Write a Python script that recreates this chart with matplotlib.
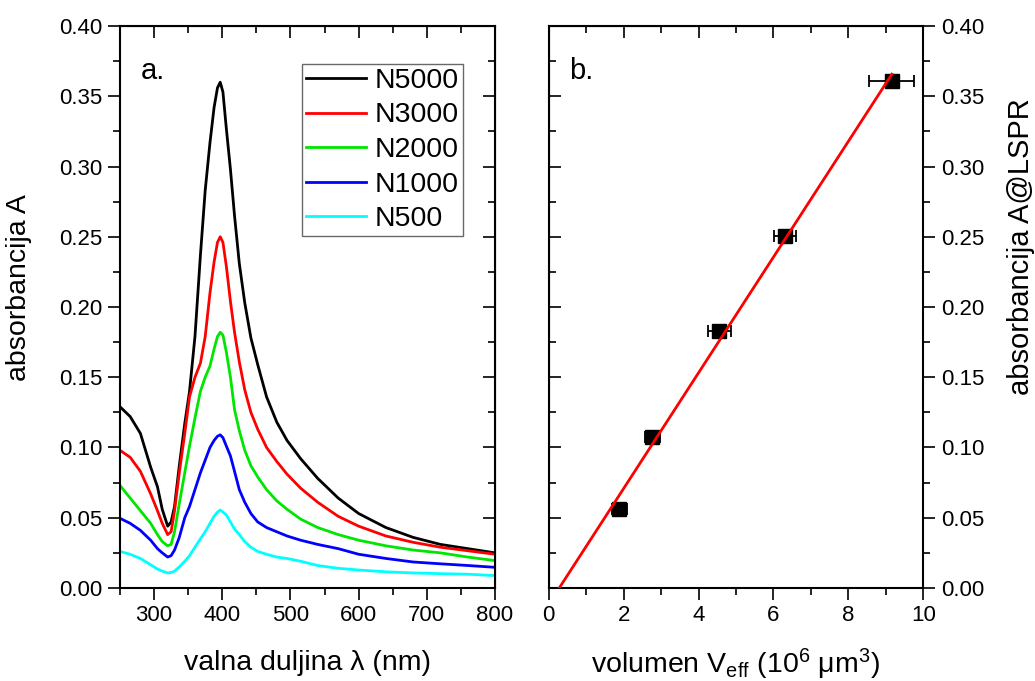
import numpy as np
import matplotlib
matplotlib.use("Agg")
import matplotlib.pyplot as plt
from matplotlib.ticker import MultipleLocator, FormatStrFormatter

plt.rcParams["font.family"] = ["Liberation Sans", "DejaVu Sans"]
plt.rcParams["mathtext.fontset"] = "custom"
plt.rcParams["mathtext.rm"] = "Liberation Sans"
plt.rcParams["mathtext.it"] = "Liberation Sans:italic"

# panel a: absorption spectra
wavelength = [250, 265, 280, 295, 305, 312, 320, 325, 330, 337, 345, 352, 360,
              368, 375, 382, 388, 393, 397, 401, 406, 412, 418, 425, 433, 442,
              452, 465, 480, 495, 515, 540, 570, 600, 640, 680, 720, 760, 800]
n5000 = [0.129, 0.122, 0.110, 0.086, 0.072, 0.056, 0.044, 0.047, 0.058, 0.087,
         0.117, 0.140, 0.179, 0.237, 0.283, 0.317, 0.342, 0.356, 0.360, 0.353,
         0.327, 0.298, 0.265, 0.231, 0.203, 0.178, 0.159, 0.136, 0.118, 0.105,
         0.092, 0.078, 0.064, 0.053, 0.043, 0.036, 0.031, 0.028, 0.025]
n3000 = [0.098, 0.093, 0.083, 0.067, 0.055, 0.046, 0.038, 0.040, 0.055, 0.082,
         0.110, 0.136, 0.150, 0.160, 0.179, 0.210, 0.232, 0.246, 0.250, 0.246,
         0.229, 0.204, 0.182, 0.161, 0.141, 0.125, 0.113, 0.100, 0.090, 0.081,
         0.071, 0.061, 0.051, 0.044, 0.037, 0.0325, 0.029, 0.0265, 0.024]
n2000 = [0.073, 0.064, 0.055, 0.046, 0.038, 0.033, 0.030, 0.031, 0.040, 0.060,
         0.082, 0.101, 0.121, 0.140, 0.150, 0.158, 0.170, 0.179, 0.182, 0.180,
         0.168, 0.150, 0.127, 0.112, 0.098, 0.087, 0.079, 0.070, 0.062, 0.056,
         0.049, 0.043, 0.038, 0.034, 0.030, 0.027, 0.025, 0.022, 0.0195]
n1000 = [0.0496, 0.046, 0.041, 0.034, 0.028, 0.025, 0.022, 0.023, 0.027,
         0.036, 0.050, 0.058, 0.070, 0.082, 0.091, 0.100, 0.105, 0.108, 0.109,
         0.107, 0.101, 0.094, 0.083, 0.070, 0.061, 0.053, 0.047, 0.043, 0.040,
         0.037, 0.034, 0.031, 0.028, 0.024, 0.021, 0.0185, 0.0172, 0.016,
         0.0147]
n500 = [0.026, 0.024, 0.021, 0.0165, 0.0135, 0.012, 0.0107, 0.011, 0.012,
        0.015, 0.019, 0.023, 0.029, 0.035, 0.040, 0.046, 0.051, 0.054, 0.0555,
        0.054, 0.052, 0.047, 0.042, 0.038, 0.033, 0.029, 0.026, 0.024, 0.022,
        0.021, 0.019, 0.016, 0.014, 0.0128, 0.0115, 0.0107, 0.0102, 0.0098,
        0.0088]
labels = ["N5000", "N3000", "N2000", "N1000", "N500"]
colors = ["#000000", "#ff0000", "#00e600", "#0000ff", "#00ffff"]

# panel b: LSPR absorbance vs effective volume
volume = [1.885, 2.77, 4.555, 6.31, 9.16]
volume_err = [0.2, 0.2, 0.3, 0.3, 0.6]
a_lspr = [0.056, 0.1077, 0.183, 0.2508, 0.361]

FS_TICK = 16
FS_LABEL = 20.5


def style_axis(ax, xmaj, xmin, inner_x, inner_y):
    ax.xaxis.set_major_locator(MultipleLocator(xmaj))
    ax.xaxis.set_minor_locator(MultipleLocator(xmin))
    ax.yaxis.set_major_locator(MultipleLocator(0.05))
    ax.yaxis.set_minor_locator(MultipleLocator(0.025))
    ax.yaxis.set_major_formatter(FormatStrFormatter("%.2f"))
    ax.tick_params(which="major", direction="out", length=8.5, width=1.2,
                   labelsize=FS_TICK, pad=4)
    ax.tick_params(which="minor", direction="out", length=5, width=1.2)
    for s in ax.spines.values():
        s.set_linewidth(1.5)
    # unlabelled sides carry inward ticks
    sx = ax.secondary_xaxis(inner_x)
    sy = ax.secondary_yaxis(inner_y)
    for sec in (sx, sy):
        sec.tick_params(which="major", direction="in", length=8.5, width=1.2)
        sec.tick_params(which="minor", direction="in", length=5, width=1.2)
    sx.xaxis.set_major_locator(MultipleLocator(xmaj))
    sx.xaxis.set_minor_locator(MultipleLocator(xmin))
    sy.yaxis.set_major_locator(MultipleLocator(0.05))
    sy.yaxis.set_minor_locator(MultipleLocator(0.025))
    sx.tick_params(labeltop=False, labelbottom=False)
    sy.tick_params(labelleft=False, labelright=False)


fig = plt.figure(figsize=(10.35, 6.81), dpi=100)
ax1 = fig.add_axes([0.1159, 0.1366, 0.3624, 0.8252])
ax2 = fig.add_axes([0.5301, 0.1366, 0.3620, 0.8252])

series = [n5000, n3000, n2000, n1000, n500]
for vals, label, color in zip(series, labels, colors):
    ax1.plot(wavelength, vals, color=color, lw=2.0, label=label)
ax1.set_xlim(250, 800)
ax1.set_ylim(0, 0.40)
style_axis(ax1, 100, 50, "top", "right")
ax1.set_xlabel("valna duljina λ (nm)", fontsize=FS_LABEL, labelpad=17)
ax1.set_ylabel("absorbancija A", fontsize=FS_LABEL)
ax1.yaxis.set_label_coords(-0.235, 0.534)
ax1.text(0.055, 0.945, "a.", transform=ax1.transAxes, fontsize=21,
         va="top", ha="left")
leg = ax1.legend(loc="upper right", bbox_to_anchor=(0.915, 0.933),
                 fontsize=20.5, frameon=True, fancybox=False, handlelength=2.1,
                 handletextpad=0.3, labelspacing=0.3, borderpad=0.15,
                 borderaxespad=0)
leg.get_frame().set_edgecolor("#444444")
leg.get_frame().set_linewidth(1.0)

ax2.errorbar(volume, a_lspr, xerr=volume_err, fmt="s", color="black",
             ms=9.5, capsize=4.5, elinewidth=1.3, capthick=1.3, zorder=2)
slope, intercept = np.polyfit(volume, a_lspr, 1)
x_fit = np.array([-intercept / slope, max(volume)])
ax2.plot(x_fit, slope * x_fit + intercept, color="#ff0000", lw=2.0, zorder=3)
ax2.set_xlim(0, 10)
ax2.set_ylim(0, 0.40)
ax2.yaxis.tick_right()
ax2.yaxis.set_label_position("right")
style_axis(ax2, 2, 1, "top", "left")
ax2.set_xlabel(r"volumen V$_\mathrm{eff}$ (10$^\mathrm{6}$ μm$^\mathrm{3}$)",
               fontsize=FS_LABEL, labelpad=15)
ax2.set_ylabel("absorbancija A@LSPR", fontsize=21)
ax2.yaxis.set_label_coords(1.222, 0.607)
ax2.text(0.055, 0.945, "b.", transform=ax2.transAxes, fontsize=21,
         va="top", ha="left")

fig.savefig("out.png", dpi=100)
